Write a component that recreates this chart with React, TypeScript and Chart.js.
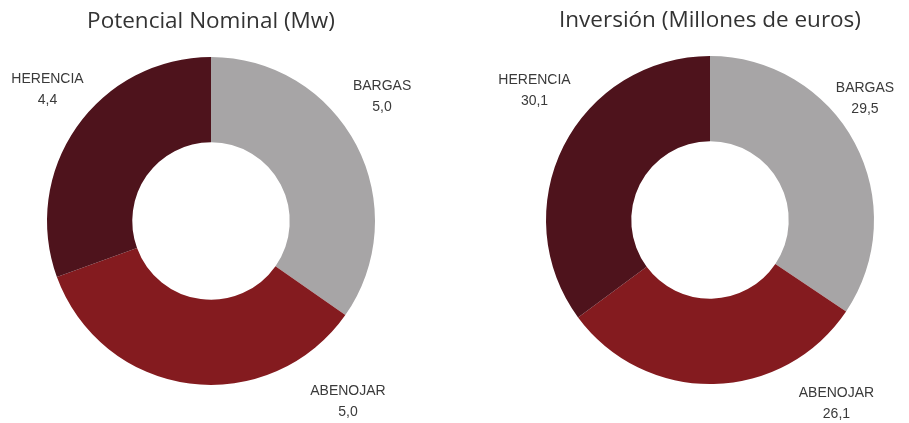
import React, { useEffect, useRef } from "react";
import { Chart, registerables } from "chart.js";

Chart.register(...registerables);

const categories = ["BARGAS", "ABENOJAR", "HERENCIA"];
const potenciaValues = [5.0, 5.0, 4.4];
const inversionValues = [29.5, 26.1, 30.1];
const potenciaTitle = "Potencial Nominal (Mw)";
const inversionTitle = "Inversión (Millones de euros)";
const sliceColors = ["#a7a5a6", "#841b1f", "#4e131c"];

const fmt = (v: number) => v.toFixed(1).replace(".", ",");

const outsideLabels = {
  id: "outsideLabels",
  afterDraw(chart: any, _args: any, opts: any) {
    const meta = chart.getDatasetMeta(0);
    const arc0 = meta.data[0];
    if (!arc0) return;
    const cx = arc0.x;
    const cy = arc0.y;
    const r = arc0.outerRadius;
    const ctx = chart.ctx;
    const labels = chart.data.labels as string[];
    const values = chart.data.datasets[0].data as number[];
    ctx.save();
    ctx.fillStyle = "#3a3a3a";
    ctx.font = "14px 'Liberation Sans', Arial, sans-serif";
    ctx.textAlign = "center";
    ctx.textBaseline = "middle";
    labels.forEach((lab, i) => {
      const off = opts.offsets[i];
      const x = cx + off[0] * r;
      const y = cy + off[1] * r;
      ctx.fillText(lab, x, y - 10);
      ctx.fillText(fmt(values[i]), x, y + 11);
    });
    ctx.restore();
  },
};

function DonutChart(props: {
  width: number;
  height: number;
  title: string;
  values: number[];
  padding: { left: number; right: number; top: number; bottom: number };
  titlePadBottom: number;
  offsets: number[][];
}) {
  const ref = useRef<HTMLCanvasElement | null>(null);
  useEffect(() => {
    if (!ref.current) return;
    const chart = new Chart(ref.current, {
      type: "doughnut",
      data: {
        labels: categories,
        datasets: [
          {
            data: props.values,
            backgroundColor: sliceColors,
            borderWidth: 0,
          },
        ],
      },
      options: {
        responsive: false,
        animation: false,
        devicePixelRatio: 1,
        cutout: "48%",
        rotation: 0,
        layout: { padding: props.padding },
        plugins: {
          legend: { display: false },
          tooltip: { enabled: false },
          title: {
            display: true,
            text: props.title,
            color: "#333333",
            font: { family: "'Open Sans', sans-serif", size: 22.5, weight: "normal" },
            padding: { top: 0, bottom: props.titlePadBottom },
          },
          outsideLabels: { offsets: props.offsets },
        } as any,
      },
      plugins: [outsideLabels],
    });
    return () => chart.destroy();
  }, []);
  return <canvas ref={ref} width={props.width} height={props.height} style={{ display: "block" }} />;
}

export default function App() {
  return (
    <div
      style={{
        position: "fixed",
        left: 0,
        top: 0,
        width: 909,
        height: 423,
        background: "#ffffff",
      }}
    >
      <div style={{ position: "absolute", left: 0, top: 0 }}>
        <DonutChart
          width={460}
          height={423}
          title={potenciaTitle}
          values={potenciaValues}
          padding={{ left: 47, right: 85, top: 8, bottom: 38 }}
          titlePadBottom={22}
          offsets={[
            [1.043, -0.762],
            [0.835, 1.098],
            [-0.997, -0.805],
          ]}
        />
      </div>
      <div style={{ position: "absolute", left: 460, top: 0 }}>
        <DonutChart
          width={449}
          height={423}
          title={inversionTitle}
          values={inversionValues}
          padding={{ left: 86, right: 35, top: 7, bottom: 39 }}
          titlePadBottom={22}
          offsets={[
            [0.945, -0.744],
            [0.771, 1.116],
            [-1.07, -0.793],
          ]}
        />
      </div>
    </div>
  );
}
